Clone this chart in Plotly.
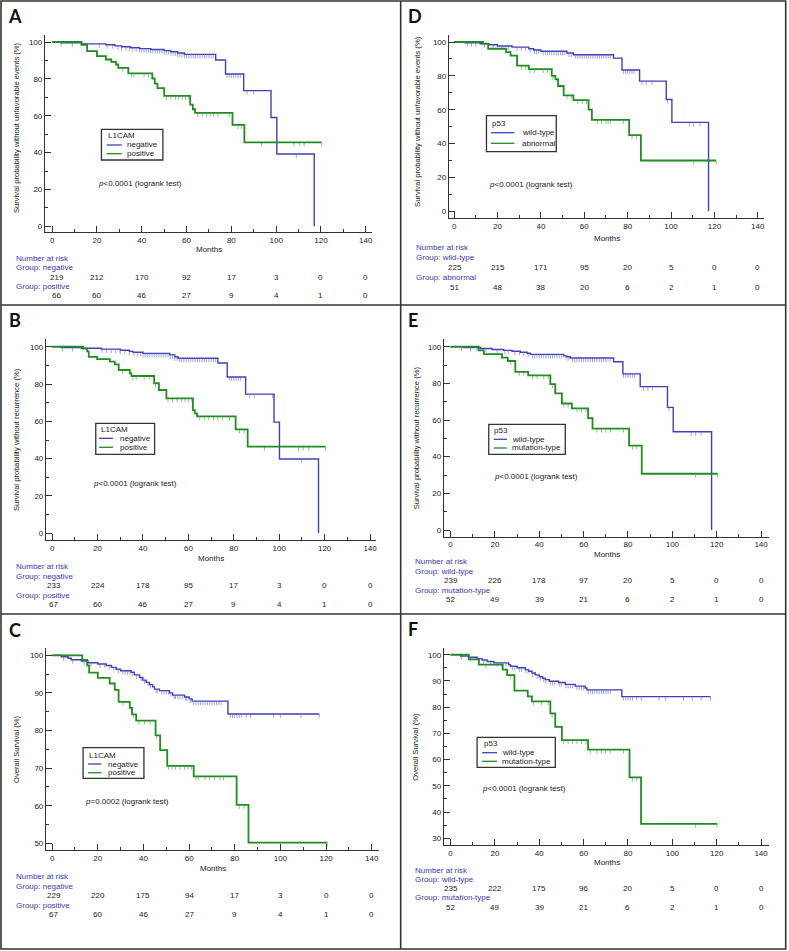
import plotly.graph_objects as go

W, H = 789, 951

# ---------------- data ----------------
month_ticks = [0, 20, 40, 60, 80, 100, 120, 140]

# Panel A: L1CAM, survival without unfavorable events
A_neg_t = [4, 13, 24, 28, 31, 35, 39, 44, 50, 53, 56, 59, 73, 77.4, 85.5, 97.7, 100.3, 117]
A_neg_s = [99.5, 99.0, 98.5, 97.9, 97.4, 96.9, 96.4, 95.9, 95.3, 94.7, 94.0, 93.3, 90.2, 82.6, 73.6, 59.0, 39.2, 0]
A_neg_end = 117
A_neg_cens = [4, 9, 21, 24.5, 27, 29.5, 31, 33, 34.5, 36, 37.5, 39, 40, 41, 42, 43, 44, 45, 46, 47, 48, 49, 50, 51, 52,
              53, 54, 55, 56, 57, 58, 59, 60, 61, 62, 63, 64, 65, 66, 67, 68, 69, 70, 71, 72, 78, 79, 80, 81, 82,
              83, 84, 87, 90, 109]
A_pos_t = [13.1, 15.6, 20, 24, 26.4, 28.5, 29.5, 34, 44.7, 45.8, 47, 50, 61.6, 62.8, 63.8, 80.5, 85.8]
A_pos_s = [98.5, 95.1, 92.3, 90.5, 89.2, 87.8, 86.0, 83.0, 80.2, 77.4, 75.0, 70.8, 66.0, 63.5, 61.5, 55.0, 45.5]
A_pos_end = 120.3
A_pos_cens = [31.5, 35.5, 36.5, 41, 43, 51, 53, 55, 56.5, 58, 59.5, 61, 65, 67, 69, 70.5, 72, 74, 79, 83, 84.5,
              93.5, 108, 110.5, 112.5, 120.3]
A_risk_neg = [219, 212, 170, 92, 17, 3, 0, 0]
A_risk_pos = [66, 60, 46, 27, 9, 4, 1, 0]

# Panel B: L1CAM, survival without recurrence
B_neg_t = [4, 12.9, 21.7, 30, 34, 35.6, 40, 51.8, 54, 55.4, 73, 77.1, 85.2, 97.7, 100.1, 117.3]
B_neg_s = [99.6, 99.2, 98.7, 98.1, 97.5, 97.0, 96.4, 95.6, 94.6, 93.8, 91.3, 83.8, 74.6, 59.6, 39.8, 0]
B_neg_end = 117.3
B_neg_cens = [4.5, 9, 22, 24, 26, 28, 30, 32, 34, 36, 37.5, 39, 40, 41, 42, 43, 44, 45, 46, 47, 48, 49, 50, 51, 52,
              53, 54, 55, 56, 57, 58, 59, 60, 61, 62, 63, 64, 65, 66, 67, 68, 69, 70, 71, 72, 78, 79, 80, 81, 82,
              83, 87, 89, 97, 109.7]
B_pos_t = [13.6, 15.4, 16.1, 19.8, 25.4, 27.6, 29.3, 34.2, 34.9, 44.9, 47, 50.3, 62, 62.8, 63.8, 80.8, 86.1]
B_pos_s = [99.0, 97.5, 94.6, 93.3, 92.0, 90.5, 87.5, 85.7, 84.3, 80.4, 76.8, 72.3, 66.0, 64.3, 62.7, 55.7, 46.4]
B_pos_end = 120.4
B_pos_cens = [31, 35.5, 37, 40.5, 43, 45.5, 51, 53, 55, 57, 58.5, 60, 61.5, 65, 67, 69, 71, 73, 75, 78, 82.5, 84.5,
              93.5, 108.5, 110.5, 113, 120.4]
B_risk_neg = [233, 224, 178, 95, 17, 3, 0, 0]
B_risk_pos = [67, 60, 46, 27, 9, 4, 1, 0]

# Panel C: L1CAM, overall survival
C_neg_t = [4, 7, 8.4, 12.8, 15.7, 20, 23.7, 26, 28, 30, 34.6, 36, 38.3, 39.7, 41.2, 42.6, 44, 44.8, 47, 51.4, 52.8,
           58, 60, 61.3, 77]
C_neg_s = [99.6, 99.2, 98.8, 98.5, 98.0, 97.7, 97.3, 96.8, 96.3, 95.9, 95.5, 94.8, 94.1, 93.4, 92.8, 92.2, 91.6,
           91.0, 90.6, 90.0, 89.4, 88.9, 88.4, 87.8, 84.4]
C_neg_end = 117
C_neg_cens = [5, 9, 14, 17, 21, 23, 25, 27, 29, 31, 32, 33, 34, 35, 37, 39, 40.5, 42, 43, 45.5, 46, 48, 49, 50, 51,
              52, 53.5, 54, 55, 56, 57, 58.5, 59, 60.5, 62, 63, 64, 65, 66, 67, 68, 69, 70, 71, 72, 73, 74, 78, 79,
              80, 81, 82, 83, 85, 87, 97, 100, 109, 117]
C_pos_t = [13.2, 15.3, 16.2, 20, 25.2, 27.4, 29.1, 34, 35, 36.8, 45.3, 47.3, 50.4, 62, 80.8, 86]
C_pos_s = [98.8, 97.3, 95.4, 94.0, 92.5, 90.8, 87.6, 86.0, 84.3, 82.6, 78.7, 74.8, 70.6, 67.8, 60.2, 50.2]
C_pos_end = 120.5
C_pos_cens = [31, 35.5, 38, 40.5, 43, 45.8, 51, 52.5, 54, 56, 58, 59.5, 61, 63, 64, 67, 69, 71, 73.5, 75, 82, 84,
              120.5]
C_risk_neg = [229, 220, 175, 94, 17, 3, 0, 0]
C_risk_pos = [67, 60, 46, 27, 9, 4, 1, 0]

# Panel D: p53, survival without unfavorable events
D_wt_t = [5, 12, 16, 20, 26.7, 34.4, 36.7, 40, 52, 55, 73.5, 77.4, 85.5, 97.8, 100.4, 117.3]
D_wt_s = [99.5, 99.0, 98.4, 97.6, 97.0, 96.0, 95.3, 94.5, 93.5, 92.5, 90.5, 83.5, 76.9, 66.0, 52.5, 0]
D_wt_end = 117.3
D_wt_cens = [6, 8, 10, 14, 18, 22, 25, 29, 31, 33, 35, 37, 38, 39, 41, 42, 43, 44, 45, 46, 47, 48, 49, 50, 51, 53,
             54, 56, 57, 58, 59, 60, 61, 62, 63, 64, 65, 66, 67, 68, 69, 70, 71, 72, 78, 79, 80, 81, 82, 83, 86.6,
             88.6, 91.2, 98.4, 108.5, 110.4, 113.4]
D_ab_t = [13.3, 15.7, 24, 26, 29, 34.4, 45, 46.7, 47.9, 50.5, 55, 62, 63.5, 80.7, 86.1]
D_ab_s = [99.0, 96.0, 94.0, 92.0, 86.0, 84.0, 80.0, 78.0, 74.0, 68.5, 65.7, 60.0, 54.0, 45.0, 30.0]
D_ab_end = 120.8
D_ab_cens = [31, 33, 35, 37, 41, 43, 45.5, 52, 54, 57, 59, 61, 66, 68, 70, 71, 72, 78, 82, 84, 110.5, 120.8]
D_risk_wt = [225, 215, 171, 95, 20, 5, 0, 0]
D_risk_ab = [51, 48, 38, 20, 6, 2, 1, 0]

# Panel E: p53, survival without recurrence
E_wt_t = [6, 13.5, 18.7, 24, 27.7, 31.5, 34.5, 36, 51, 52.5, 54, 73.5, 77.7, 85.5, 97.8, 100.4, 117.7]
E_wt_s = [99.6, 99.0, 98.5, 98.0, 97.5, 97.0, 96.4, 95.8, 95.0, 94.5, 93.8, 91.8, 85.2, 78.2, 66.9, 53.6, 0]
E_wt_end = 117.7
E_wt_cens = [5, 9, 12, 16, 21, 24.5, 26, 29, 31, 33, 35, 37, 38, 39, 40, 41, 42, 43, 44, 45, 46, 47, 48, 49, 50,
             52, 53, 55, 56, 57, 58, 59, 60, 61, 62, 63, 64, 65, 66, 67, 68, 69, 70, 71, 72, 78, 79, 80, 81, 82,
             83, 87, 89, 91, 98.5, 108.5, 110.5, 113]
E_mt_t = [12.7, 15, 23.2, 25.8, 29.2, 35, 45, 47.2, 50.2, 54.7, 62, 64, 80.5, 86.2]
E_mt_s = [98.0, 96.0, 94.0, 92.2, 86.3, 84.4, 79.6, 74.5, 69.0, 66.4, 61.0, 55.3, 46.0, 30.7]
E_mt_end = 120.4
E_mt_cens = [27, 31, 33, 37, 39, 42, 44, 46, 51, 53, 57, 59, 61, 66, 68, 70, 72, 78, 82, 84, 110.5, 120.4]
E_risk_wt = [239, 226, 178, 97, 20, 5, 0, 0]
E_risk_mt = [52, 49, 39, 21, 6, 2, 1, 0]

# Panel F: p53, overall survival
F_wt_t = [4.5, 8.2, 12, 14.2, 16.5, 19.5, 26.2, 27, 30, 33.7, 35.2, 36.7, 38.2, 40, 41.5, 42.7, 44.5, 48.7, 51.7,
          56.2, 60.7, 61.5, 77.2]
F_wt_s = [99.5, 99.0, 98.5, 98.0, 97.4, 96.9, 96.2, 95.6, 95.0, 94.3, 93.7, 93.0, 92.3, 91.6, 91.0, 90.5, 89.9,
          89.4, 88.7, 88.0, 87.3, 86.6, 84.0]
F_wt_end = 117.2
F_wt_cens = [5, 9, 13, 15, 18, 21, 23, 25, 28, 29, 31, 32, 34, 35, 37, 39, 40.5, 42, 43, 45, 46, 47, 49, 50, 52, 53,
             54, 55, 57, 58, 59, 60, 62, 63, 64, 65, 66, 67, 68, 69, 70, 71, 72, 78, 79, 80, 81, 82, 84, 86, 94,
             97, 105, 109, 113, 117.2]
F_mt_t = [8.2, 12.7, 23.5, 25.5, 28.8, 34.8, 36.7, 45, 47.2, 50.2, 62, 80.7, 85.9]
F_mt_s = [98.2, 96.2, 94.3, 92.2, 86.3, 84.1, 82.2, 77.6, 72.5, 67.4, 63.8, 53.2, 35.5]
F_mt_end = 120.2
F_mt_cens = [16, 27, 37.5, 41, 44, 45.8, 51, 53, 55, 57, 59, 61, 63, 66, 68, 70, 72, 78, 82, 84, 110.5, 120.2]
F_risk_wt = [235, 222, 175, 96, 20, 5, 0, 0]
F_risk_mt = [52, 49, 39, 21, 6, 2, 1, 0]

# ---------------- styling ----------------
BLUE = "#4040b4"
GREEN = "#228b22"
BLUE_T = "rgba(100,100,205,0.6)"
GREEN_T = "rgba(70,155,70,0.6)"
TXT_BLUE = "#3a3aa8"
AX = "#333333"
FONT = "Liberation Sans, Arial, sans-serif"
FS = 8


def px_x(p):
    return p / W


def px_y(p):
    return 1 - p / H


# pixel geometry of each panel
panels = [
    dict(letter="A", letter_xy=(15, 16), left=45, right=372.7, top=35, bottom=232.3,
         x0=52.3, x140=366.7, ylo=0, yhi=100, ylo_px=226.3, yhi_px=42, dy=20, mdy=10,
         ylabel="Survival probability without unfavorable events (%)", ylab_xy=(16, 127),
         months_xy=(210, 250), legend_box=(101.7, 129.3, 163.3, 160), leg_title="L1CAM",
         leg_rows=(135, 145, 153.7), leg_line=(107, 122), leg_text_x=125.7, leg_title_x=106,
         names=("negative", "positive"), p_text="<i>p</i><0.0001 (logrank test)", p_xy=(96.7, 183.3),
         nar_x=14, nar_rows=(258.3, 267.7, 277.3, 286.7, 295.7), first_off=2.0,
         s1=(A_neg_t, A_neg_s, A_neg_end, A_neg_cens), s2=(A_pos_t, A_pos_s, A_pos_end, A_pos_cens),
         r1=A_risk_neg, r2=A_risk_pos),
    dict(letter="B", letter_xy=(15, 320), left=46, right=376.7, top=339.3, bottom=540,
         x0=52.3, x140=371, ylo=0, yhi=100, ylo_px=533.3, yhi_px=346.7, dy=20, mdy=10,
         ylabel="Survival probability without recurrence (%)", ylab_xy=(16, 439),
         months_xy=(211.7, 558.3), legend_box=(96, 423.3, 155, 454.3), leg_title="L1CAM",
         leg_rows=(429, 438.3, 447.3), leg_line=(99.3, 113.3), leg_text_x=118.3, leg_title_x=99.3,
         names=("negative", "positive"), p_text="<i>p</i><0.0001 (logrank test)", p_xy=(91.7, 483.3),
         nar_x=14, nar_rows=(566.7, 576, 585.7, 595, 604.3), first_off=0.7,
         s1=(B_neg_t, B_neg_s, B_neg_end, B_neg_cens), s2=(B_pos_t, B_pos_s, B_pos_end, B_pos_cens),
         r1=B_risk_neg, r2=B_risk_pos),
    dict(letter="C", letter_xy=(15, 630), left=46, right=380, top=648.3, bottom=850,
         x0=52.3, x140=372.7, ylo=50, yhi=100, ylo_px=843.3, yhi_px=655.3, dy=10, mdy=5,
         ylabel="Overall Survival (%)", ylab_xy=(16, 749),
         months_xy=(213.3, 868.3), legend_box=(83.3, 747.7, 144.3, 778.3), leg_title="L1CAM",
         leg_rows=(755, 764, 772.7), leg_line=(88.3, 101.7), leg_text_x=106.7, leg_title_x=87.3,
         names=("negative", "positive"), p_text="<i>p</i>=0.0002 (logrank test)", p_xy=(83.3, 801.7),
         nar_x=14, nar_rows=(876.7, 886, 895.7, 905, 914.3), first_off=0.7,
         s1=(C_neg_t, C_neg_s, C_neg_end, C_neg_cens), s2=(C_pos_t, C_pos_s, C_pos_end, C_pos_cens),
         r1=C_risk_neg, r2=C_risk_pos),
    dict(letter="D", letter_xy=(416, 16), left=450, right=766, top=35, bottom=218.3,
         x0=455.3, x140=759.7, ylo=0, yhi=100, ylo_px=211.3, yhi_px=42, dy=20, mdy=10,
         ylabel="Survival probability without unfavorable events (%)", ylab_xy=(419, 121),
         months_xy=(608.3, 238.7), legend_box=(487.7, 115.7, 557.7, 151.7), leg_title="p53",
         leg_rows=(123.3, 132.7, 143.3), leg_line=(492.3, 515.7), leg_text_x=521, leg_title_x=491.7,
         names=("wild-type", "abnormal"), p_text="<i>p</i><0.0001 (logrank test)", p_xy=(488, 184),
         nar_x=415, nar_rows=(247.3, 257.3, 267.7, 277.3, 287.3), first_off=0.3,
         s1=(D_wt_t, D_wt_s, D_wt_end, D_wt_cens), s2=(D_ab_t, D_ab_s, D_ab_end, D_ab_cens),
         r1=D_risk_wt, r2=D_risk_ab),
    dict(letter="E", letter_xy=(414, 320), left=445, right=770.7, top=339.3, bottom=536.7,
         x0=451.7, x140=763, ylo=0, yhi=100, ylo_px=530, yhi_px=346.7, dy=20, mdy=10,
         ylabel="Survival probability without recurrence (%)", ylab_xy=(417.7, 437.6),
         months_xy=(608.3, 554), legend_box=(490, 424.3, 566.7, 454.3), leg_title="p53",
         leg_rows=(430, 439.3, 448), leg_line=(495, 508.3), leg_text_x=511.7, leg_title_x=493.3,
         names=("wild-type", "mutation-type"), p_text="<i>p</i><0.0001 (logrank test)", p_xy=(493, 476.7),
         nar_x=414, nar_rows=(561.7, 571.3, 580.7, 590, 599.3), first_off=0.1,
         s1=(E_wt_t, E_wt_s, E_wt_end, E_wt_cens), s2=(E_mt_t, E_mt_s, E_mt_end, E_mt_cens),
         r1=E_risk_wt, r2=E_risk_mt),
    dict(letter="F", letter_xy=(414, 629), left=445, right=770.7, top=648.3, bottom=845.3,
         x0=451.7, x140=763, ylo=30, yhi=100, ylo_px=838.3, yhi_px=654.7, dy=10, mdy=5,
         ylabel="Overall Survival (%)", ylab_xy=(417, 746.7),
         months_xy=(608.3, 862.3), legend_box=(478.3, 737.3, 556.7, 767.3), leg_title="p53",
         leg_rows=(743.3, 752.7, 761.3), leg_line=(483.3, 498.3), leg_text_x=501.7, leg_title_x=483.3,
         names=("wild-type", "mutation-type"), p_text="<i>p</i><0.0001 (logrank test)", p_xy=(481, 788.3),
         nar_x=414, nar_rows=(870, 879.3, 888.7, 897.7, 907.3), first_off=0.1,
         s1=(F_wt_t, F_wt_s, F_wt_end, F_wt_cens), s2=(F_mt_t, F_mt_s, F_mt_end, F_mt_cens),
         r1=F_risk_wt, r2=F_risk_mt),
]


def surv_at(ts, ss, t):
    s = 100.0
    for ti, si in zip(ts, ss):
        if ti <= t:
            s = si
    return s


fig = go.Figure()
shapes = []
annotations = []

for i, p in enumerate(panels, start=1):
    xa = "x" if i == 1 else f"x{i}"
    ya = "y" if i == 1 else f"y{i}"
    xkey = "xaxis" if i == 1 else f"xaxis{i}"
    ykey = "yaxis" if i == 1 else f"yaxis{i}"

    ppx = (p["x140"] - p["x0"]) / 140.0
    xr = [(p["left"] - p["x0"]) / ppx, (p["right"] - p["x0"]) / ppx]
    ppy = (p["ylo_px"] - p["yhi_px"]) / (p["yhi"] - p["ylo"])
    yr = [p["ylo"] - (p["bottom"] - p["ylo_px"]) / ppy, p["yhi"] + (p["yhi_px"] - p["top"]) / ppy]
    tick_drop = 4.0 / ppy  # censor tick length in data units

    fig.update_layout({
        xkey: dict(domain=[px_x(p["left"]), px_x(p["right"])], range=xr, anchor=ya,
                   showline=True, linecolor=AX, linewidth=1, ticks="inside", ticklen=6, tickcolor=AX,
                   tickwidth=1, tickvals=month_ticks, showgrid=False, zeroline=False, fixedrange=True,
                   tickfont=dict(family=FONT, size=FS, color="#222"),
                   minor=dict(ticks="inside", ticklen=3, tickcolor=AX, dtick=10, tick0=0, showgrid=False)),
        ykey: dict(domain=[px_y(p["bottom"]), px_y(p["top"])], range=yr, anchor=xa,
                   showline=True, linecolor=AX, linewidth=1, ticks="inside", ticklen=6, tickcolor=AX,
                   tickwidth=1, tick0=0, dtick=p["dy"], showgrid=False, zeroline=False, fixedrange=True,
                   tickfont=dict(family=FONT, size=FS, color="#222"),
                   minor=dict(ticks="inside", ticklen=3, tickcolor=AX, dtick=p["mdy"], tick0=0,
                              showgrid=False)),
    })

    for (ts, ss, tend, cens), col, ccol, lw in ((p["s1"], BLUE, BLUE_T, 1.4), (p["s2"], GREEN, GREEN_T, 1.8)):
        xs = [0] + list(ts)
        ys = [100] + list(ss)
        if tend > xs[-1]:
            xs.append(tend)
            ys.append(ys[-1])
        fig.add_trace(go.Scatter(x=xs, y=ys, mode="lines", line=dict(color=col, width=lw, shape="hv"),
                                 xaxis=xa, yaxis=ya, showlegend=False, hoverinfo="skip"))
        cx, cy = [], []
        for c in cens:
            s = surv_at(ts, ss, c)
            cx += [c, c, None]
            cy += [s, s - tick_drop, None]
        fig.add_trace(go.Scatter(x=cx, y=cy, mode="lines", line=dict(color=ccol, width=1),
                                 xaxis=xa, yaxis=ya, showlegend=False, hoverinfo="skip"))

    # panel letter
    lx, ly = p["letter_xy"]
    annotations.append(dict(text="<b>" + p["letter"] + "</b>", x=px_x(lx), y=px_y(ly), xref="paper",
                            yref="paper", showarrow=False, xanchor="center", yanchor="middle",
                            font=dict(family="Lato, Open Sans, sans-serif", size=18, color="#111")))
    # y axis label
    yx, yy = p["ylab_xy"]
    annotations.append(dict(text=p["ylabel"], x=px_x(yx), y=px_y(yy), xref="paper", yref="paper",
                            showarrow=False, textangle=-90, xanchor="center", yanchor="middle",
                            font=dict(family=FONT, size=7.6, color="#222")))
    # x axis label
    mx, my = p["months_xy"]
    annotations.append(dict(text="Months", x=px_x(mx), y=px_y(my), xref="paper", yref="paper",
                            showarrow=False, xanchor="center", yanchor="middle",
                            font=dict(family=FONT, size=FS, color="#222")))
    # legend box
    bx0, by0, bx1, by1 = p["legend_box"]
    shapes.append(dict(type="rect", xref="paper", yref="paper", x0=px_x(bx0), x1=px_x(bx1),
                       y0=px_y(by1), y1=px_y(by0), line=dict(color="#333", width=1.3),
                       fillcolor="white", layer="above"))
    ty, r1y, r2y = p["leg_rows"]
    annotations.append(dict(text=p["leg_title"], x=px_x(p["leg_title_x"]), y=px_y(ty), xref="paper",
                            yref="paper", showarrow=False, xanchor="left", yanchor="middle",
                            font=dict(family=FONT, size=FS, color="#222")))
    for ry, nm, col in ((r1y, p["names"][0], BLUE), (r2y, p["names"][1], GREEN)):
        shapes.append(dict(type="line", xref="paper", yref="paper", x0=px_x(p["leg_line"][0]),
                           x1=px_x(p["leg_line"][1]), y0=px_y(ry), y1=px_y(ry),
                           line=dict(color=col, width=1.3), layer="above"))
        annotations.append(dict(text=nm, x=px_x(p["leg_text_x"]), y=px_y(ry), xref="paper", yref="paper",
                                showarrow=False, xanchor="left", yanchor="middle",
                                font=dict(family=FONT, size=FS, color="#222")))
    # p value
    annotations.append(dict(text=p["p_text"], x=px_x(p["p_xy"][0]), y=px_y(p["p_xy"][1]), xref="paper",
                            yref="paper", showarrow=False, xanchor="left", yanchor="middle",
                            font=dict(family=FONT, size=FS, color="#222")))
    # number at risk
    nr = p["nar_rows"]
    for txt, ry in (("Number at risk", nr[0]), ("Group: " + p["names"][0], nr[1]),
                    ("Group: " + p["names"][1], nr[3])):
        annotations.append(dict(text=txt, x=px_x(p["nar_x"]), y=px_y(ry), xref="paper", yref="paper",
                                showarrow=False, xanchor="left", yanchor="middle",
                                font=dict(family=FONT, size=FS, color=TXT_BLUE)))
    for vals, ry in ((p["r1"], nr[2]), (p["r2"], nr[4])):
        for m, v in zip(month_ticks, vals):
            annotations.append(dict(text=str(v), x=m + (p["first_off"] if m == 0 else 0), y=px_y(ry),
                                    xref=xa, yref="paper", showarrow=False, xanchor="center",
                                    yanchor="middle", font=dict(family=FONT, size=FS, color="#222")))

# panel borders
BC = "#333333"
shapes.append(dict(type="rect", xref="paper", yref="paper", x0=px_x(1), x1=px_x(787.7), y0=px_y(949),
                   y1=px_y(1), line=dict(color=BC, width=1.6)))
shapes.append(dict(type="line", xref="paper", yref="paper", x0=px_x(401.7), x1=px_x(401.7), y0=px_y(949),
                   y1=px_y(1), line=dict(color=BC, width=1.6)))
for yy in (305, 614):
    shapes.append(dict(type="line", xref="paper", yref="paper", x0=px_x(1), x1=px_x(787.7), y0=px_y(yy),
                       y1=px_y(yy), line=dict(color=BC, width=1.6)))

fig.update_layout(width=W, height=H, margin=dict(l=0, r=0, t=0, b=0), paper_bgcolor="white",
                  plot_bgcolor="white", showlegend=False, shapes=shapes, annotations=annotations)

fig.write_html("out.html", config={"displayModeBar": False},
               post_script="document.body.style.margin='0';")
